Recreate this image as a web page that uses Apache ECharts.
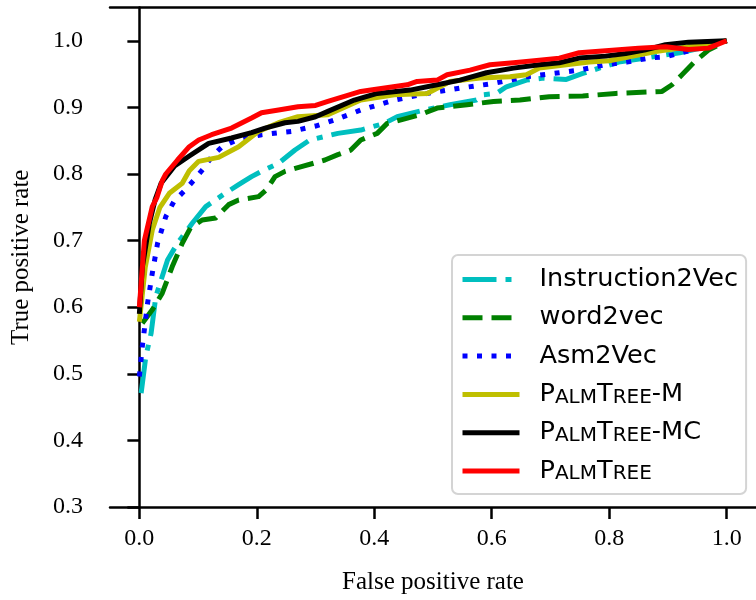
<!DOCTYPE html>
<html>
<head>
<meta charset="utf-8">
<script src="https://cdn.jsdelivr.net/npm/echarts@6.0.0/dist/echarts.min.js"></script>
<style>
    html,body{margin:0;padding:0;background:#fff;}
    #main{width:756px;height:600px;}
</style>
</head>
<body>
<div id="main"></div>
<script>
//ROC 曲线数据 (fpr / tpr)
var seriesNames = ['Instruction2Vec', 'word2vec', 'Asm2Vec', 'PalmTree-M', 'PalmTree-MC', 'PalmTree'];
var xTicks = [0.0, 0.2, 0.4, 0.6, 0.8, 1.0];
var yTicks = [0.3, 0.4, 0.5, 0.6, 0.7, 0.8, 0.9, 1.0];

var ins2vecX = [0.003,0.011,0.02,0.028,0.037,0.048,0.065,0.09,0.113,0.146,0.169,0.191,0.208,0.237,0.265,0.29,0.338,0.377,0.417,0.439,0.485,0.529,0.574,0.586,0.608,0.625,0.659,0.688,0.727,0.755,0.783,0.816,0.86,0.92,0.96,1.0];
var ins2vecY = [0.471,0.526,0.561,0.616,0.641,0.671,0.696,0.726,0.751,0.771,0.784,0.796,0.804,0.816,0.836,0.851,0.861,0.866,0.876,0.886,0.896,0.904,0.911,0.919,0.921,0.931,0.941,0.944,0.942,0.951,0.959,0.968,0.974,0.982,0.99,1.0];

var w2vX = [0.005,0.022,0.039,0.056,0.073,0.087,0.107,0.13,0.152,0.169,0.203,0.216,0.231,0.248,0.276,0.316,0.338,0.36,0.377,0.405,0.422,0.444,0.478,0.507,0.558,0.603,0.648,0.698,0.755,0.811,0.89,0.907,0.924,0.946,0.969,1.0];
var w2vY = [0.576,0.596,0.621,0.661,0.696,0.719,0.731,0.734,0.754,0.761,0.766,0.776,0.796,0.804,0.811,0.821,0.829,0.836,0.851,0.861,0.876,0.881,0.889,0.899,0.904,0.909,0.911,0.916,0.917,0.921,0.924,0.934,0.949,0.969,0.986,1.0];

var asm2vecX = [0.0,0.005,0.014,0.022,0.031,0.045,0.059,0.076,0.093,0.11,0.124,0.141,0.163,0.208,0.237,0.259,0.30,0.332,0.377,0.434,0.49,0.546,0.603,0.659,0.715,0.749,0.794,0.83,0.867,0.896,0.918,0.96,1.0];
var asm2vecY = [0.496,0.541,0.606,0.651,0.696,0.736,0.759,0.774,0.791,0.809,0.827,0.841,0.85,0.859,0.862,0.864,0.872,0.881,0.896,0.911,0.921,0.929,0.936,0.946,0.952,0.956,0.964,0.968,0.974,0.976,0.981,0.99,1.0];

var ptMX = [0.0,0.01,0.022,0.035,0.051,0.073,0.085,0.101,0.135,0.169,0.203,0.237,0.27,0.321,0.377,0.434,0.49,0.529,0.58,0.631,0.659,0.681,0.727,0.766,0.80,0.828,0.879,0.935,0.969,1.0];
var ptMY = [0.578,0.66,0.716,0.75,0.771,0.786,0.805,0.819,0.825,0.841,0.864,0.877,0.886,0.889,0.911,0.919,0.921,0.939,0.944,0.946,0.949,0.959,0.964,0.968,0.970,0.975,0.984,0.991,0.994,1.0];

var ptMCX = [0.0,0.005,0.017,0.027,0.037,0.06,0.085,0.118,0.157,0.191,0.214,0.248,0.27,0.30,0.321,0.366,0.405,0.461,0.507,0.546,0.591,0.637,0.681,0.715,0.749,0.794,0.828,0.86,0.896,0.935,1.0];
var ptMCY = [0.59,0.66,0.726,0.762,0.786,0.812,0.827,0.846,0.854,0.862,0.869,0.877,0.879,0.886,0.894,0.911,0.921,0.926,0.934,0.941,0.952,0.959,0.964,0.967,0.974,0.977,0.981,0.986,0.994,0.998,1.0];

var ptX = [0.0,0.0085,0.022,0.03,0.039,0.045,0.065,0.085,0.101,0.123,0.157,0.191,0.208,0.237,0.27,0.30,0.321,0.377,0.394,0.456,0.473,0.507,0.524,0.563,0.597,0.637,0.681,0.715,0.749,0.794,0.85,0.896,0.935,0.969,1.0];
var ptY = [0.60,0.70,0.751,0.765,0.79,0.80,0.821,0.841,0.851,0.859,0.869,0.884,0.892,0.896,0.901,0.903,0.909,0.924,0.926,0.934,0.939,0.941,0.949,0.956,0.964,0.967,0.971,0.974,0.982,0.985,0.989,0.991,0.987,0.989,1.0];

//组合成点
function zip(xs, ys){
    var arr = [];
    for(var i = 0; i < xs.length; i++){
        arr.push([xs[i], ys[i]]);
    }
    return arr;
}

//小型大写 PalmTree
function legendName(name){
    if(name.indexOf('PalmTree') == 0){
        var rest = name.substring(8);
        return '{g| }{b|P}{s|ALM}{b|T}{s|REE}' + (rest ? '{b|' + rest + '}' : '');
    }
    return '{g| }{b|' + name + '}';
}

function lineSeries(name, xs, ys, color, dash, width){
    return {
        name: name,
        type: 'line',
        data: zip(xs, ys),
        symbol: 'none',
        animation: false,
        lineStyle: {
            color: color,
            width: width,
            type: dash,
            cap: 'butt',
            join: 'round'
        },
        itemStyle: {color: color}
    };
}

var serifFont = 'Liberation Serif';
var myChart = echarts.init(document.getElementById('main'));
var option = {
    backgroundColor: '#fff',
    animation: false,
    grid: {
        left: 110,
        right: -5,
        top: 7.5,
        bottom: 92.5
    },
    legend: {
        orient: 'vertical',
        left: 452,
        top: 255,
        padding: [11.5, 8, 10, 8],
        itemWidth: 57,
        itemHeight: 26,
        itemGap: 12.3,
        borderColor: '#d4d4d4',
        borderWidth: 2,
        borderRadius: 6,
        backgroundColor: 'rgba(255,255,255,0.8)',
        formatter: legendName,
        itemStyle: {opacity: 0},
        lineStyle: {width: 5, opacity: 1},
        textStyle: {
            color: '#000',
            fontFamily: 'DejaVu Sans',
            fontSize: 25.6,
            rich: {
                g: {width: 15},
                b: {fontFamily: 'DejaVu Sans', fontSize: 25.6, color: '#000', verticalAlign: 'bottom'},
                s: {fontFamily: 'DejaVu Sans', fontSize: 20, color: '#000', verticalAlign: 'bottom'}
            }
        },
        data: seriesNames
    },
    xAxis: [{
        type: 'value',
        min: -0.05,
        max: 1.05,
        name: 'False positive rate',
        nameLocation: 'middle',
        nameGap: 63,
        nameTextStyle: {fontFamily: serifFont, fontSize: 25, color: '#000'},
        axisLine: {show: true, lineStyle: {color: '#000', width: 2.5}},
        axisTick: {show: true, length: 12, lineStyle: {color: '#000', width: 2.5}, customValues: xTicks},
        axisLabel: {
            fontFamily: serifFont, fontSize: 24, color: '#000', margin: 20,
            customValues: xTicks,
            formatter: function(v){ return v.toFixed(1); }
        },
        splitLine: {show: false}
    }, {
        //上边框
        type: 'value',
        position: 'top',
        min: -0.05,
        max: 1.05,
        axisLine: {show: true, lineStyle: {color: '#000', width: 2.5}},
        axisTick: {show: false},
        axisLabel: {show: false},
        splitLine: {show: false}
    }],
    yAxis: {
        type: 'value',
        min: 0.3,
        max: 1.05,
        name: 'True positive rate',
        nameLocation: 'middle',
        nameGap: 76,
        nameTextStyle: {fontFamily: serifFont, fontSize: 25, color: '#000'},
        axisLine: {show: true, lineStyle: {color: '#000', width: 2.5}},
        axisTick: {show: true, length: 12, lineStyle: {color: '#000', width: 2.5}, customValues: yTicks},
        axisLabel: {
            fontFamily: serifFont, fontSize: 24, color: '#000', margin: 27,
            customValues: yTicks,
            formatter: function(v){ return v.toFixed(1); }
        },
        splitLine: {show: false}
    },
    series: [
        lineSeries(seriesNames[0], ins2vecX, ins2vecY, '#00bfbf', [34, 9, 6, 9], 5),
        lineSeries(seriesNames[1], w2vX, w2vY, '#008000', [20, 9], 5),
        lineSeries(seriesNames[2], asm2vecX, asm2vecY, '#0000ff', [5, 9.5], 5),
        lineSeries(seriesNames[3], ptMX, ptMY, '#bfbf00', 'solid', 5),
        lineSeries(seriesNames[4], ptMCX, ptMCY, '#000000', 'solid', 5),
        lineSeries(seriesNames[5], ptX, ptY, '#ff0000', 'solid', 5)
    ]
};
myChart.setOption(option);
</script>
</body>
</html>
